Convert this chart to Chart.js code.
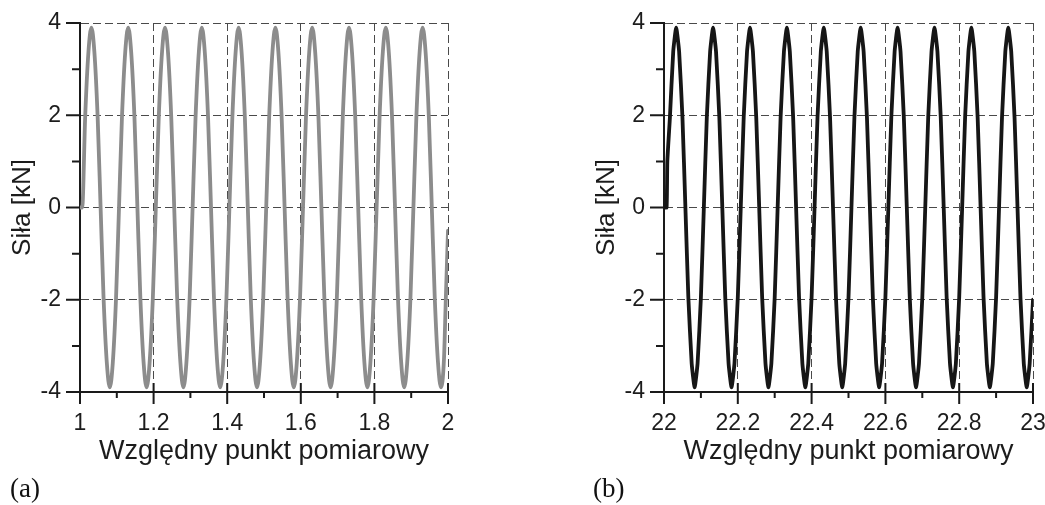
<!DOCTYPE html>
<html>
<head>
<meta charset="utf-8">
<script src="https://cdn.jsdelivr.net/npm/chart.js@4/dist/chart.umd.min.js"></script>
<style>
  html, body { margin: 0; padding: 0; background: #ffffff; }
  body { width: 1045px; height: 505px; overflow: hidden; position: relative; }
  canvas { position: absolute; top: 0; }
  #cA { left: 0; }
  #cB { left: 520px; }
  .panel { position: absolute; font-family: 'Liberation Serif', 'Times New Roman', serif; font-size: 27px; line-height: 27px; color: #111; }
</style>
</head>
<body>
<canvas id="cA" width="520" height="505"></canvas>
<canvas id="cB" width="540" height="505"></canvas>
<div class="panel" style="left:10px; top:475px;">(a)</div>
<div class="panel" style="left:593px; top:475px;">(b)</div>
<script>
// ---------- data ----------
const yTickValues = [-4, -2, 0, 2, 4];
const yTickLabels = ['-4', '-2', '0', '2', '4'];
const yMinorTicks = [-3, -1, 1, 3];

const aTickValues = [1.0, 1.2, 1.4, 1.6, 1.8, 2.0];
const aTickLabels = ['1', '1.2', '1.4', '1.6', '1.8', '2'];
const aMinorTicks = [1.1, 1.3, 1.5, 1.7, 1.9];

const bTickValues = [22.0, 22.2, 22.4, 22.6, 22.8, 23.0];
const bTickLabels = ['22', '22.2', '22.4', '22.6', '22.8', '23'];
const bMinorTicks = [22.1, 22.3, 22.5, 22.7, 22.9];

const xTitle = 'Względny punkt pomiarowy';
const yTitle = 'Siła [kN]';

// (a) measurement points 1..2
const aX = [
  1.000, 1.004,
  1.006, 1.014, 1.023, 1.031, 1.039, 1.048, 1.056, 1.064, 1.073, 1.081, 1.089, 1.098,
  1.106, 1.114, 1.123, 1.131, 1.139, 1.148, 1.156, 1.164, 1.173, 1.181, 1.189, 1.198,
  1.206, 1.214, 1.223, 1.231, 1.239, 1.248, 1.256, 1.264, 1.273, 1.281, 1.289, 1.298,
  1.306, 1.314, 1.323, 1.331, 1.339, 1.348, 1.356, 1.364, 1.373, 1.381, 1.389, 1.398,
  1.406, 1.414, 1.423, 1.431, 1.439, 1.448, 1.456, 1.464, 1.473, 1.481, 1.489, 1.498,
  1.506, 1.514, 1.523, 1.531, 1.539, 1.548, 1.556, 1.564, 1.573, 1.581, 1.589, 1.598,
  1.606, 1.614, 1.623, 1.631, 1.639, 1.648, 1.656, 1.664, 1.673, 1.681, 1.689, 1.698,
  1.706, 1.714, 1.723, 1.731, 1.739, 1.748, 1.756, 1.764, 1.773, 1.781, 1.789, 1.798,
  1.806, 1.814, 1.823, 1.831, 1.839, 1.848, 1.856, 1.864, 1.873, 1.881, 1.889, 1.898,
  1.906, 1.914, 1.923, 1.931, 1.939, 1.948, 1.956, 1.964, 1.973, 1.981, 1.989, 1.994, 2.000
];
const aY = [
  0, 0,
  0, 1.95, 3.38, 3.9, 3.38, 1.95, 0, -1.95, -3.38, -3.9, -3.38, -1.95,
  0, 1.95, 3.38, 3.9, 3.38, 1.95, 0, -1.95, -3.38, -3.9, -3.38, -1.95,
  0, 1.95, 3.38, 3.9, 3.38, 1.95, 0, -1.95, -3.38, -3.9, -3.38, -1.95,
  0, 1.95, 3.38, 3.9, 3.38, 1.95, 0, -1.95, -3.38, -3.9, -3.38, -1.95,
  0, 1.95, 3.38, 3.9, 3.38, 1.95, 0, -1.95, -3.38, -3.9, -3.38, -1.95,
  0, 1.95, 3.38, 3.9, 3.38, 1.95, 0, -1.95, -3.38, -3.9, -3.38, -1.95,
  0, 1.95, 3.38, 3.9, 3.38, 1.95, 0, -1.95, -3.38, -3.9, -3.38, -1.95,
  0, 1.95, 3.38, 3.9, 3.38, 1.95, 0, -1.95, -3.38, -3.9, -3.38, -1.95,
  0, 1.95, 3.38, 3.9, 3.38, 1.95, 0, -1.95, -3.38, -3.9, -3.38, -1.95,
  0, 1.95, 3.38, 3.9, 3.38, 1.95, 0, -1.95, -3.38, -3.9, -3.3, -2.0, -0.5
];

// (b) measurement points 22..23
const bX = [
  22.000, 22.007, 22.009, 22.016, 22.025, 22.033, 22.041, 22.050, 22.058, 22.066, 22.075, 22.083, 22.091, 22.100,
  22.108, 22.116, 22.125, 22.133, 22.141, 22.150, 22.158, 22.166, 22.175, 22.183, 22.191, 22.200,
  22.208, 22.216, 22.225, 22.233, 22.241, 22.250, 22.258, 22.266, 22.275, 22.283, 22.291, 22.300,
  22.308, 22.316, 22.325, 22.333, 22.341, 22.350, 22.358, 22.366, 22.375, 22.383, 22.391, 22.400,
  22.408, 22.416, 22.425, 22.433, 22.441, 22.450, 22.458, 22.466, 22.475, 22.483, 22.491, 22.500,
  22.508, 22.516, 22.525, 22.533, 22.541, 22.550, 22.558, 22.566, 22.575, 22.583, 22.591, 22.600,
  22.608, 22.616, 22.625, 22.633, 22.641, 22.650, 22.658, 22.666, 22.675, 22.683, 22.691, 22.700,
  22.708, 22.716, 22.725, 22.733, 22.741, 22.750, 22.758, 22.766, 22.775, 22.783, 22.791, 22.800,
  22.808, 22.816, 22.825, 22.833, 22.841, 22.850, 22.858, 22.866, 22.875, 22.883, 22.891, 22.900,
  22.908, 22.916, 22.925, 22.933, 22.941, 22.950, 22.958, 22.966, 22.975, 22.983, 22.991, 23.000
];
const bY = [
  0, 0, 1.0, 1.95, 3.38, 3.9, 3.38, 1.95, 0, -1.95, -3.38, -3.9, -3.38, -1.95,
  0, 1.95, 3.38, 3.9, 3.38, 1.95, 0, -1.95, -3.38, -3.9, -3.38, -1.95,
  0, 1.95, 3.38, 3.9, 3.38, 1.95, 0, -1.95, -3.38, -3.9, -3.38, -1.95,
  0, 1.95, 3.38, 3.9, 3.38, 1.95, 0, -1.95, -3.38, -3.9, -3.38, -1.95,
  0, 1.95, 3.38, 3.9, 3.38, 1.95, 0, -1.95, -3.38, -3.9, -3.38, -1.95,
  0, 1.95, 3.38, 3.9, 3.38, 1.95, 0, -1.95, -3.38, -3.9, -3.38, -1.95,
  0, 1.95, 3.38, 3.9, 3.38, 1.95, 0, -1.95, -3.38, -3.9, -3.38, -1.95,
  0, 1.95, 3.38, 3.9, 3.38, 1.95, 0, -1.95, -3.38, -3.9, -3.38, -1.95,
  0, 1.95, 3.38, 3.9, 3.38, 1.95, 0, -1.95, -3.38, -3.9, -3.38, -1.95,
  0, 1.95, 3.38, 3.9, 3.38, 1.95, 0, -1.95, -3.38, -3.9, -3.38, -2.0
];

// ---------- rendering ----------
const FONT = "'Liberation Sans', Arial, Helvetica, sans-serif";
const TEXT = '#1c1c1c';
const AXIS = '#1a1a1a';
const GRID = '#4a4a4a';

const axisTicks = {
  id: 'axisTicks',
  beforeDatasetsDraw(chart, args, opts) {
    const { ctx, chartArea, scales } = chart;
    const x = scales.x, y = scales.y;
    const L = chartArea.left, B = chartArea.bottom;
    ctx.save();
    ctx.strokeStyle = AXIS;
    ctx.lineWidth = 2;
    ctx.setLineDash([]);
    ctx.beginPath();
    y.ticks.forEach(t => { const p = y.getPixelForValue(t.value); ctx.moveTo(L - 14, p); ctx.lineTo(L, p); });
    opts.yMinor.forEach(v => { const p = y.getPixelForValue(v); ctx.moveTo(L - 8, p); ctx.lineTo(L, p); });
    x.ticks.forEach(t => { const p = x.getPixelForValue(t.value); ctx.moveTo(p, B - 9); ctx.lineTo(p, B + 12); });
    opts.xMinor.forEach(v => { const p = x.getPixelForValue(v); ctx.moveTo(p, B); ctx.lineTo(p, B + 6); });
    ctx.stroke();
    ctx.restore();
  }
};

function makeChart(id, xs, ys, cfg) {
  const pts = xs.map((v, i) => ({ x: v, y: ys[i] }));
  return new Chart(document.getElementById(id), {
    type: 'line',
    data: {
      datasets: [{
        data: pts,
        borderColor: cfg.color,
        borderWidth: cfg.width,
        pointRadius: 0,
        fill: false,
        tension: cfg.tension,
        cubicInterpolationMode: cfg.cubic ? 'monotone' : 'default',
        borderJoinStyle: 'round',
        borderCapStyle: 'round'
      }]
    },
    options: {
      responsive: false,
      animation: false,
      devicePixelRatio: 1,
      layout: { padding: cfg.padding },
      plugins: {
        legend: { display: false },
        tooltip: { enabled: false },
        axisTicks: { xMinor: cfg.xMinor, yMinor: yMinorTicks }
      },
      scales: {
        x: {
          type: 'linear',
          min: cfg.xTicks[0],
          max: cfg.xTicks[cfg.xTicks.length - 1],
          afterBuildTicks: s => { s.ticks = cfg.xTicks.map(v => ({ value: v })); },
          afterFit: s => { s.height = 113; },
          ticks: {
            autoSkip: false,
            maxRotation: 0,
            padding: 6,
            color: TEXT,
            font: { family: FONT, size: 23 },
            callback: (v, i) => cfg.xLabels[i]
          },
          grid: {
            drawTicks: true,
            tickLength: 12,
            tickColor: 'transparent',
            lineWidth: 1,
            color: c => (c.tick && Math.abs(c.tick.value - cfg.xTicks[0]) < 1e-9) ? 'transparent' : GRID
          },
          border: { display: true, color: AXIS, width: 2, dash: [8, 4] },
          title: {
            display: true,
            text: xTitle,
            color: TEXT,
            font: { family: FONT, size: 27 },
            padding: { top: 0, bottom: 37 }
          }
        },
        y: {
          type: 'linear',
          min: -4,
          max: 4,
          afterBuildTicks: s => { s.ticks = yTickValues.map(v => ({ value: v })); },
          afterFit: s => { s.width = 80; },
          ticks: {
            padding: 5,
            color: TEXT,
            font: { family: FONT, size: 23 },
            callback: (v, i) => yTickLabels[i]
          },
          grid: {
            drawTicks: true,
            tickLength: 14,
            tickColor: 'transparent',
            lineWidth: 1,
            color: c => (c.tick && c.tick.value === -4) ? 'transparent' : GRID
          },
          border: { display: true, color: AXIS, width: 2, dash: [8, 4] },
          title: {
            display: true,
            text: yTitle,
            color: TEXT,
            font: { family: FONT, size: 26 },
            padding: { top: 7, bottom: 0 }
          }
        }
      }
    },
    plugins: [axisTicks]
  });
}

makeChart('cA', aX, aY, {
  color: '#8c8c8c', width: 3.8, tension: 0.4, cubic: true,
  xTicks: aTickValues, xLabels: aTickLabels, xMinor: aMinorTicks,
  padding: { left: 0, right: 72, top: 23, bottom: 0 }
});
makeChart('cB', bX, bY, {
  color: '#161616', width: 3.8, tension: 0.15, cubic: false,
  xTicks: bTickValues, xLabels: bTickLabels, xMinor: bMinorTicks,
  padding: { left: 64, right: 27, top: 23, bottom: 0 }
});
</script>
</body>
</html>
